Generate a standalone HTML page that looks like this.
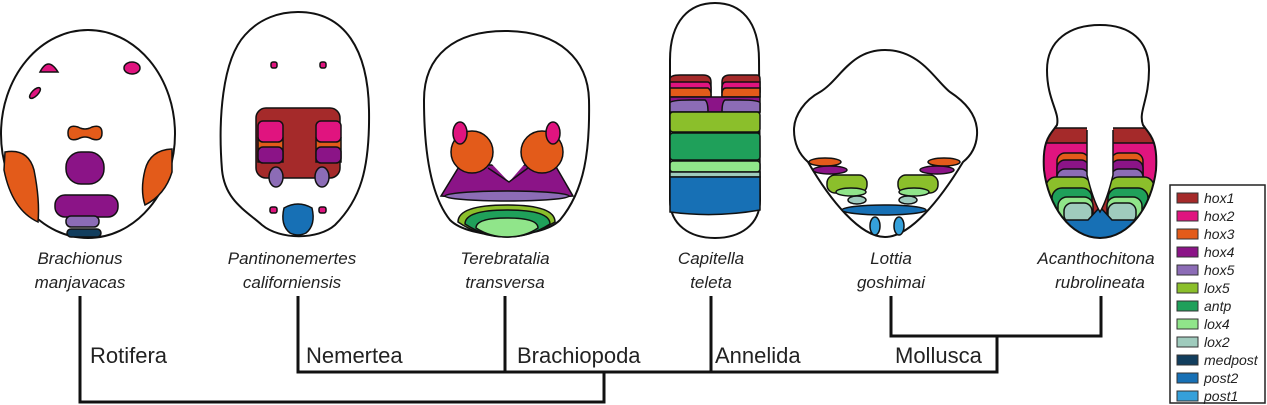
<!DOCTYPE html>
<html><head><meta charset="utf-8"><style>
body{margin:0;background:#fff;width:1267px;height:405px;overflow:hidden}
svg{display:block}
text{font-family:"Liberation Sans",Arial,sans-serif}
.sp{font-style:italic;font-size:17px;text-anchor:middle;fill:#222}
.cl{font-size:22px;fill:#222}
.lg{font-style:italic;font-size:14px;fill:#222}
</style></head><body>
<svg width="1267" height="405" viewBox="0 0 1267 405" xmlns="http://www.w3.org/2000/svg">
<g stroke="#111" stroke-width="1.5">
<!-- Brachionus -->
<ellipse cx="88" cy="134" rx="87" ry="104" fill="#fff" stroke-width="2"/>
<path d="M40,72 Q48,56 58,72 Z" fill="#e0147f"/>
<ellipse cx="132" cy="68" rx="8" ry="6" fill="#e0147f"/>
<ellipse cx="35" cy="93" rx="3" ry="7" transform="rotate(45 35 93)" fill="#e0147f"/>
<path d="M68,133 Q68,124 78,127 Q85,131 92,127 Q102,124 102,133 Q102,142 92,139 Q85,135 78,139 Q68,142 68,133Z" fill="#e35b1a"/>
<path d="M5,152 Q28,148 34,170 Q40,200 38,222 Q12,210 4,170Z" fill="#e35b1a"/>
<path d="M172,149 Q150,150 145,170 Q140,190 145,205 Q165,195 172,172Z" fill="#e35b1a"/>
<rect x="66" y="152" width="38" height="32" rx="15" fill="#8b1487"/>
<rect x="55" y="195" width="63" height="22" rx="10" fill="#8b1487"/>
<rect x="66" y="216" width="33" height="11" rx="5" fill="#8c6cb6"/>
<rect x="67" y="229" width="34" height="8" rx="4" fill="#123e5e"/>
<!-- Pantinonemertes -->
<path d="M298,12 C345,12 368,50 369,110 C370,170 360,200 335,225 C318,240 280,240 262,225 C245,210 225,200 222,170 C218,120 222,60 245,35 C260,18 280,12 298,12Z" fill="#fff" stroke-width="2"/>
<rect x="271" y="62" width="6" height="6" rx="2" fill="#e0147f"/>
<rect x="320" y="62" width="6" height="6" rx="2" fill="#e0147f"/>
<rect x="256" y="108" width="84" height="70" rx="10" fill="#a52a2a"/>
<rect x="258" y="138" width="25" height="24" fill="#e35b1a"/><rect x="316" y="138" width="25" height="24" fill="#e35b1a"/>
<rect x="258" y="121" width="25" height="21" rx="5" fill="#e0147f"/><rect x="316" y="121" width="25" height="21" rx="5" fill="#e0147f"/>
<rect x="258" y="147" width="25" height="16" rx="5" fill="#8b1487"/><rect x="316" y="147" width="25" height="16" rx="5" fill="#8b1487"/>
<ellipse cx="276" cy="177" rx="7" ry="10" fill="#8c6cb6"/><ellipse cx="322" cy="177" rx="7" ry="10" fill="#8c6cb6"/>
<rect x="270" y="207" width="7" height="6" rx="2" fill="#e0147f"/><rect x="319" y="207" width="7" height="6" rx="2" fill="#e0147f"/>
<path d="M284,208 Q298,200 312,208 Q316,225 306,233 Q298,237 290,233 Q280,225 284,208Z" fill="#1770b5"/>
<!-- Terebratalia -->
<path d="M505,31 C560,31 588,60 589,100 C590,150 585,190 560,220 C540,240 470,240 450,220 C430,195 424,150 424,100 C424,55 455,31 505,31Z" fill="#fff" stroke-width="2"/>
<path d="M460,165 L555,165 L573,196 Q510,202 441,196Z" fill="#8b1487"/>
<ellipse cx="507" cy="196" rx="62" ry="5" fill="#8c6cb6"/>
<path d="M488,160 L509,182 L528,160 Z" fill="#fff" stroke="none"/>
<path d="M488,168 L509,182 L528,168" fill="none"/>
<circle cx="472" cy="152" r="21" fill="#e35b1a"/><circle cx="542" cy="152" r="21" fill="#e35b1a"/>
<ellipse cx="460" cy="133" rx="7" ry="11" fill="#e0147f"/><ellipse cx="553" cy="133" rx="7" ry="11" fill="#e0147f"/>
<path d="M458,222 Q458,205 507,205 Q555,205 555,222 Q530,237 507,237 Q480,237 458,222Z" fill="#8bbf2b"/>
<path d="M465,224 Q465,210 507,210 Q550,210 550,224 Q530,237 507,237 Q485,237 465,224Z" fill="#1fa05a"/>
<path d="M476,228 Q476,218 507,218 Q538,218 538,228 Q525,237 507,237 Q490,237 476,228Z" fill="#90e58a"/>
<!-- Capitella -->
<path d="M670,60 C670,20 690,3 715,3 C740,3 759,20 759,60 L760,200 C760,225 740,238 715,238 C690,238 670,225 670,200Z" fill="#fff" stroke-width="2"/>
<path d="M670,79 Q670,75 680,75 L703,75 Q711,75 711,82 L711,92 L670,92Z" fill="#a52a2a"/>
<path d="M722,82 Q722,75 730,75 L757,75 Q760,75 760,79 L760,92 L722,92Z" fill="#a52a2a"/>
<path d="M670,82 L708,82 Q711,83 711,88 L711,96 L670,96Z" fill="#e0147f"/><path d="M722,88 Q722,82 726,82 L760,82 L760,96 L722,96Z" fill="#e0147f"/>
<path d="M670,88 L708,88 Q711,90 711,94 L711,97 L670,97Z" fill="#e35b1a"/><path d="M722,94 Q722,88 726,88 L760,88 L760,97 L722,97Z" fill="#e35b1a"/>
<path d="M670,97 L760,97 L760,112 L670,112Z" fill="#8b1487"/>
<path d="M670,103 Q670,100 690,100 L705,100 Q708,102 708,112 L670,112Z" fill="#8c6cb6"/>
<path d="M760,103 Q760,100 740,100 L725,100 Q722,102 722,112 L760,112Z" fill="#8c6cb6"/>
<rect x="670" y="112" width="90" height="20" rx="3" fill="#8bbf2b"/>
<rect x="670" y="133" width="90" height="27" rx="3" fill="#1fa05a"/>
<rect x="670" y="161" width="90" height="11" rx="3" fill="#90e58a"/>
<rect x="670" y="172" width="90" height="5" fill="#9fcbbd"/>
<path d="M670,177 L760,177 L760,210 Q715,218 670,212Z" fill="#1770b5"/>
<!-- Lottia -->
<path d="M885,50 C920,50 935,80 950,92 C970,105 978,120 977,135 C976,150 968,158 963,162 C940,200 910,237 885,237 C860,237 830,200 808,162 C800,155 794,145 794,130 C794,115 805,100 820,92 C840,80 850,50 885,50Z" fill="#fff" stroke-width="2"/>
<ellipse cx="825" cy="162" rx="16" ry="4" fill="#e35b1a"/><ellipse cx="944" cy="162" rx="16" ry="4" fill="#e35b1a"/>
<ellipse cx="830" cy="170" rx="17" ry="4" fill="#8b1487"/><ellipse cx="937" cy="170" rx="17" ry="4" fill="#8b1487"/>
<rect x="827" y="175" width="40" height="18" rx="8" fill="#8bbf2b"/><rect x="898" y="175" width="40" height="18" rx="8" fill="#8bbf2b"/>
<ellipse cx="851" cy="192" rx="15" ry="4" fill="#90e58a"/><ellipse cx="914" cy="192" rx="15" ry="4" fill="#90e58a"/>
<ellipse cx="857" cy="200" rx="9" ry="4" fill="#9fcbbd"/><ellipse cx="908" cy="200" rx="9" ry="4" fill="#9fcbbd"/>
<ellipse cx="884" cy="210" rx="42" ry="5" fill="#1770b5"/>
<ellipse cx="875" cy="226" rx="5" ry="9" fill="#35a0da"/><ellipse cx="899" cy="226" rx="5" ry="9" fill="#35a0da"/>
<!-- Acanthochitona -->
<clipPath id="ac"><path d="M1057,125 C1050,135 1042,140 1044,170 C1048,205 1070,238 1100,238 C1130,238 1152,205 1156,170 C1158,140 1150,135 1143,125Z"/></clipPath>
<g clip-path="url(#ac)">
<rect x="1040" y="128" width="120" height="112" fill="#a52a2a"/>
<path d="M1040,143 L1088,143 L1088,240 L1040,240Z M1112,143 L1160,143 L1160,240 L1112,240Z" fill="#e0147f"/>
<rect x="1057" y="153" width="32" height="80" rx="8" fill="#e35b1a"/><rect x="1111" y="153" width="32" height="80" rx="8" fill="#e35b1a"/>
<rect x="1057" y="160" width="32" height="70" rx="8" fill="#8b1487"/><rect x="1111" y="160" width="32" height="70" rx="8" fill="#8b1487"/>
<rect x="1057" y="169" width="32" height="60" rx="8" fill="#8c6cb6"/><rect x="1111" y="169" width="32" height="60" rx="8" fill="#8c6cb6"/>
<rect x="1046" y="177" width="45" height="60" rx="10" fill="#8bbf2b"/><rect x="1109" y="177" width="45" height="60" rx="10" fill="#8bbf2b"/>
<rect x="1052" y="188" width="40" height="50" rx="10" fill="#1fa05a"/><rect x="1108" y="188" width="40" height="50" rx="10" fill="#1fa05a"/>
<rect x="1058" y="197" width="35" height="30" rx="9" fill="#90e58a"/><rect x="1107" y="197" width="35" height="30" rx="9" fill="#90e58a"/>
<rect x="1064" y="203" width="28" height="20" rx="8" fill="#9fcbbd"/><rect x="1108" y="203" width="28" height="20" rx="8" fill="#9fcbbd"/>
<path d="M1040,220 L1088,220 L1100,207 L1112,220 L1160,220 L1160,240 L1040,240Z" fill="#1770b5"/>
</g>
<path d="M1087,125 L1087,175 Q1093,200 1100,212 Q1107,200 1113,175 L1113,125Z" fill="#fff" stroke="none"/>
<path d="M1087,130 L1087,175 Q1093,200 1100,212 Q1107,200 1113,175 L1113,130" fill="none"/>
<path d="M1057,125 C1060,112 1047,100 1047,70 C1047,40 1070,25 1100,25 C1130,25 1149,40 1149,70 C1149,100 1138,112 1143,125 C1150,135 1158,140 1156,170 C1152,205 1130,238 1100,238 C1070,238 1048,205 1044,170 C1042,140 1050,135 1057,125Z" fill="none" stroke-width="2"/>
</g>
<!-- species labels -->
<text class="sp" x="80" y="264">Brachionus</text><text class="sp" x="80" y="288">manjavacas</text>
<text class="sp" x="292" y="264">Pantinonemertes</text><text class="sp" x="292" y="288">californiensis</text>
<text class="sp" x="505" y="264">Terebratalia</text><text class="sp" x="505" y="288">transversa</text>
<text class="sp" x="711" y="264">Capitella</text><text class="sp" x="711" y="288">teleta</text>
<text class="sp" x="891" y="264">Lottia</text><text class="sp" x="891" y="288">goshimai</text>
<text class="sp" x="1096" y="264">Acanthochitona</text><text class="sp" x="1100" y="288">rubrolineata</text>
<!-- tree -->
<g stroke="#111" stroke-width="3" fill="none">
<path d="M80,296 V402 H604 V372"/>
<path d="M298,296 V372 H997 V336"/>
<path d="M505,296 V372"/><path d="M711,296 V372"/>
<path d="M891,296 V336 H1101 V296"/>
</g>
<text class="cl" x="90" y="363">Rotifera</text>
<text class="cl" x="306" y="363">Nemertea</text>
<text class="cl" x="517" y="363">Brachiopoda</text>
<text class="cl" x="715" y="363">Annelida</text>
<text class="cl" x="895" y="363">Mollusca</text>
<!-- legend -->
<rect x="1170" y="185" width="95" height="218" fill="#fff" stroke="#222" stroke-width="1.5"/>
<g stroke="#333" stroke-width="1">
<rect x="1177" y="193" width="21" height="10" fill="#a52a2a"/>
<rect x="1177" y="211" width="21" height="10" fill="#e0147f"/>
<rect x="1177" y="229" width="21" height="10" fill="#e35b1a"/>
<rect x="1177" y="247" width="21" height="10" fill="#8b1487"/>
<rect x="1177" y="265" width="21" height="10" fill="#8c6cb6"/>
<rect x="1177" y="283" width="21" height="10" fill="#8bbf2b"/>
<rect x="1177" y="301" width="21" height="10" fill="#1fa05a"/>
<rect x="1177" y="319" width="21" height="10" fill="#90e58a"/>
<rect x="1177" y="337" width="21" height="10" fill="#9fcbbd"/>
<rect x="1177" y="355" width="21" height="10" fill="#123e5e"/>
<rect x="1177" y="373" width="21" height="10" fill="#1770b5"/>
<rect x="1177" y="391" width="21" height="10" fill="#35a0da"/>
</g>
<text class="lg" x="1204" y="203">hox1</text><text class="lg" x="1204" y="221">hox2</text>
<text class="lg" x="1204" y="239">hox3</text><text class="lg" x="1204" y="257">hox4</text>
<text class="lg" x="1204" y="275">hox5</text><text class="lg" x="1204" y="293">lox5</text>
<text class="lg" x="1204" y="311">antp</text><text class="lg" x="1204" y="329">lox4</text>
<text class="lg" x="1204" y="347">lox2</text><text class="lg" x="1204" y="365">medpost</text>
<text class="lg" x="1204" y="383">post2</text><text class="lg" x="1204" y="401">post1</text>
</svg>
</body></html>
